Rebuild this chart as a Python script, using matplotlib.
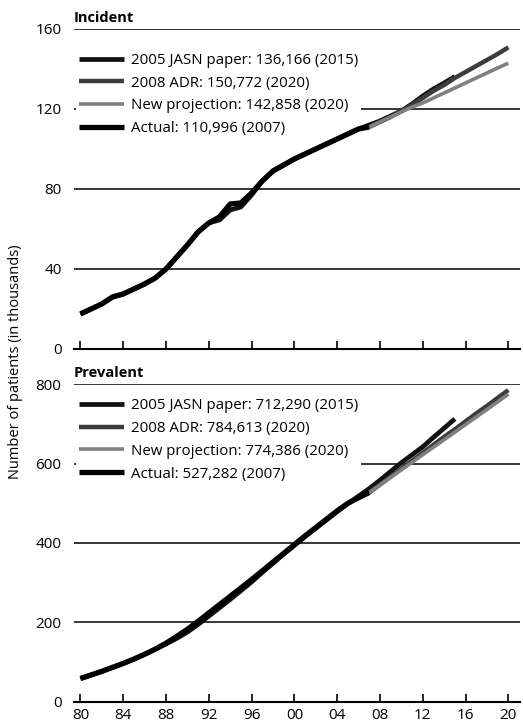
import matplotlib.pyplot as plt
import numpy as np

plt.rcParams['font.family'] = ['Open Sans', 'DejaVu Sans']

# ---- incident (thousands) ----
inc_actual_years = list(range(1980, 2008))
inc_actual = [17.5, 20, 22.5, 26, 27.5, 30, 32.5, 35.5, 40, 46, 52, 58.5, 63, 66,
              72.5, 73, 78, 84, 89, 92, 95, 97.5, 100, 102.5, 105, 107.5, 110, 111]

inc_jasn_years = list(range(1980, 2016))
inc_jasn = [17.5, 20, 22.5, 26, 27.5, 30, 32.5, 35.5, 40, 46, 52, 58.5, 63, 64.5,
            69.5, 71, 77, 84, 89, 92, 95, 97.5, 100, 102.5, 105, 107.5, 110, 112,
            114, 116.5, 119, 122.5, 126.5, 130, 133, 136.2]

inc_adr_years = list(range(2007, 2021))
inc_adr = [111, 113.5, 116, 119, 122, 125.5, 129, 132, 135.5, 138.5, 141.5, 144.5,
           147.5, 150.8]

inc_new_years = list(range(2007, 2021))
inc_new = [111, 113.5, 116, 118.5, 121, 123, 125.5, 128, 130.5, 133, 135.5, 138,
           140.5, 142.9]

inc_labels = ['2005 JASN paper: 136,166 (2015)', '2008 ADR: 150,772 (2020)',
              'New projection: 142,858 (2020)', 'Actual: 110,996 (2007)']

# ---- prevalent (thousands) ----
prev_actual_years = list(range(1980, 2008))
prev_actual = [59, 68, 77, 87, 97, 108, 120, 133, 148, 165, 183, 203, 224, 245,
               266, 287, 308, 330, 352, 374, 396, 418, 439, 460, 481, 500, 514, 527]

prev_jasn_years = list(range(1980, 2016))
prev_jasn = [59, 68, 77, 87, 97, 108, 120, 133, 146, 160, 176, 195, 216, 237,
             258, 280, 302, 326, 349, 372, 394, 416, 437, 458, 479, 499, 518, 537,
             558, 580, 602, 622, 642, 666, 689, 712.3]

prev_adr_years = list(range(2007, 2021))
prev_adr = [527, 547, 567, 587, 607, 627, 647, 667, 686, 706, 726, 745, 765, 784.6]

prev_new_years = list(range(2007, 2021))
prev_new = [527, 546, 565, 584, 603, 622, 641, 660, 679, 698, 717, 736, 755, 774.4]

prev_labels = ['2005 JASN paper: 712,290 (2015)', '2008 ADR: 784,613 (2020)',
               'New projection: 774,386 (2020)', 'Actual: 527,282 (2007)']

xticks = list(range(1980, 2021, 4))
xticklabels = ['80', '84', '88', '92', '96', '00', '04', '08', '12', '16', '20']

colors = ['#111111', '#3c3c3c', '#808080', '#000000']
widths = [3.4, 3.2, 2.6, 3.8]


def panel(ax, series, labels, ymax, step, title, show_xlabels, leg_y):
    for (xs, ys), lab, c, lw in zip(series, labels, colors, widths):
        ax.plot(xs, ys, color=c, lw=lw, label=lab, solid_capstyle='butt')
    ax.set_xlim(1979.4, 2021.1)
    ax.set_ylim(0, ymax)
    ax.set_yticks(np.arange(0, ymax + 1, step))
    for v in np.arange(step, ymax + 1, step):
        ax.axhline(v, color='black', lw=1.1, zorder=0)
    for s in ['left', 'right', 'top']:
        ax.spines[s].set_visible(False)
    ax.spines['bottom'].set_linewidth(1.5)
    ax.set_xticks(xticks)
    if show_xlabels:
        ax.set_xticklabels(xticklabels)
    else:
        ax.set_xticklabels([])
    ax.tick_params(axis='x', direction='in', length=6, width=1.2, labelsize=11, pad=4)
    ax.tick_params(axis='y', length=0, labelsize=11, pad=9)
    ax.text(0, 1.012, title, transform=ax.transAxes, fontsize=10.5,
            fontweight='bold', va='bottom', ha='left')
    leg = ax.legend(loc='upper left', bbox_to_anchor=(0.005, leg_y), frameon=True,
                    fontsize=10.8, handlelength=3.0, handletextpad=0.45,
                    labelspacing=0.52, borderpad=0.2, borderaxespad=0)
    leg.get_frame().set_facecolor('white')
    leg.get_frame().set_edgecolor('none')
    leg.get_frame().set_alpha(1)
    leg.set_zorder(1)


fig = plt.figure(figsize=(5.23, 7.24), dpi=100)
ax1 = fig.add_axes([0.1415, 0.518, 0.853, 0.442])
ax2 = fig.add_axes([0.1415, 0.0304, 0.853, 0.4392])

panel(ax1, [(inc_jasn_years, inc_jasn), (inc_adr_years, inc_adr),
            (inc_new_years, inc_new), (inc_actual_years, inc_actual)],
      inc_labels, 160, 40, 'Incident', False, 0.935)
panel(ax2, [(prev_jasn_years, prev_jasn), (prev_adr_years, prev_adr),
            (prev_new_years, prev_new), (prev_actual_years, prev_actual)],
      prev_labels, 800, 200, 'Prevalent', True, 0.965)

fig.text(0.03, 0.5, 'Number of patients (in thousands)', rotation=90,
         ha='center', va='center', fontsize=10.5)

fig.savefig('out.png', dpi=100)
